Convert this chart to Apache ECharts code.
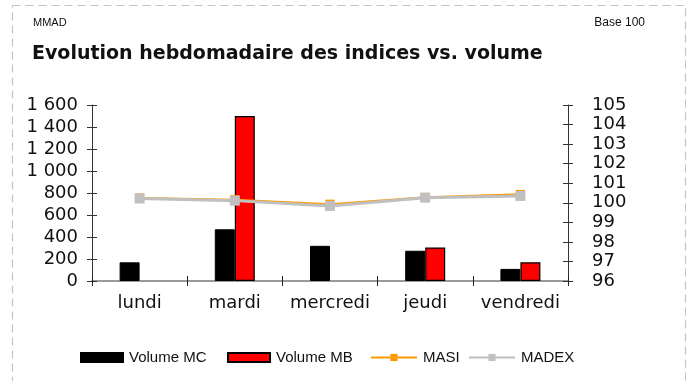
<!DOCTYPE html>
<html>
<head>
<meta charset="utf-8">
<script src="https://cdn.jsdelivr.net/npm/echarts@6/dist/echarts.min.js"></script>
<style>
  html, body { margin: 0; padding: 0; background: #fff; }
  #chart { width: 687px; height: 381px; }
</style>
</head>
<body>
<div id="chart"></div>
<script>
// Weekly trading days
const days = ['lundi', 'mardi', 'mercredi', 'jeudi', 'vendredi'];

// Traded volumes (left axis)
const volumeMC = [170, 470, 320, 275, 110];
const volumeMB = ['-', 1500, '-', 305, 170];

// Indices rebased to 100 (right axis)
const masi = [100.25, 100.16, 99.93, 100.28, 100.43];
const madex = [100.22, 100.11, 99.84, 100.26, 100.35];

// Axis ranges
const volMin = 0, volMax = 1600, volStep = 200;
const idxMin = 96, idxMax = 105, idxStep = 1;

const fmtVolume = v => {
  const s = String(v);
  return s.length > 3 ? s.slice(0, s.length - 3) + ' ' + s.slice(-3) : s;
};

const axisFont = { fontFamily: 'DejaVu Sans', fontSize: 18, color: '#111' };

const chart = echarts.init(document.getElementById('chart'), null, { renderer: 'canvas' });

const legendBase = {
  orient: 'horizontal',
  top: 345,
  itemHeight: 9,
  itemGap: 10,
  textStyle: { fontFamily: 'Liberation Sans', fontSize: 15, color: '#111', padding: [0, 0, 0, 1] }
};

chart.setOption({
  animation: false,
  backgroundColor: '#fff',
  graphic: [{
    type: 'rect',
    shape: { x: 12.5, y: 5.5, width: 673, height: 420 },
    style: { fill: 'none', stroke: '#c4c4c4', lineWidth: 1.2, lineDash: [8, 5] },
    silent: true
  }],
  title: [
    { text: 'MMAD', left: 28, top: 12,
      textStyle: { fontFamily: 'Liberation Sans Narrow, Liberation Sans', fontSize: 11, fontWeight: 'normal', color: '#111' } },
    { text: 'Base 100', right: 37, top: 12,
      textStyle: { fontFamily: 'Liberation Sans', fontSize: 12, fontWeight: 'normal', color: '#111' } },
    { text: 'Evolution hebdomadaire des indices vs. volume', left: 27, top: 40,
      textStyle: { fontFamily: 'DejaVu Sans', fontSize: 19, fontWeight: 'bold', color: '#111' } }
  ],
  legend: [
    Object.assign({}, legendBase, { left: 75, itemWidth: 42, data: [{ name: 'Volume MC', icon: 'rect' }] }),
    Object.assign({}, legendBase, { left: 222, itemWidth: 42, data: [{ name: 'Volume MB', icon: 'rect' }] }),
    Object.assign({}, legendBase, { left: 365, itemWidth: 46, data: ['MASI'] }),
    Object.assign({}, legendBase, { left: 463, itemWidth: 46, data: ['MADEX'] })
  ],
  grid: { left: 92, right: 119, top: 105, bottom: 100, containLabel: false },
  xAxis: [
    {
      type: 'category', data: days, position: 'bottom',
      axisLine: { lineStyle: { color: '#7a7a7a', width: 1.5 } },
      axisTick: { show: true, length: 5, lineStyle: { color: '#222' } },
      axisLabel: Object.assign({}, axisFont, { fontSize: 18, margin: 13, interval: 0 })
    },
    {
      type: 'category', data: days, position: 'bottom', offset: 0,
      axisLine: { show: false },
      axisTick: { show: true, inside: true, length: 5, lineStyle: { color: '#222' } },
      axisLabel: { show: false }
    }
  ],
  yAxis: [
    {
      type: 'value', position: 'left', min: volMin, max: volMax, interval: volStep,
      axisLine: { show: true, lineStyle: { color: '#333' } },
      axisTick: { show: true, length: 5, lineStyle: { color: '#333' } },
      splitLine: { show: false },
      axisLabel: Object.assign({}, axisFont, { margin: 14, formatter: fmtVolume })
    },
    {
      type: 'value', position: 'right', min: idxMin, max: idxMax, interval: idxStep,
      axisLine: { show: true, lineStyle: { color: '#333' } },
      axisTick: { show: true, length: 5, lineStyle: { color: '#333' } },
      splitLine: { show: false },
      axisLabel: Object.assign({}, axisFont, { margin: 24 })
    },
    {
      type: 'value', position: 'left', offset: 0, min: volMin, max: volMax, interval: volStep,
      axisLine: { show: false },
      axisTick: { show: true, inside: true, length: 5, lineStyle: { color: '#333' } },
      splitLine: { show: false }, axisLabel: { show: false }
    },
    {
      type: 'value', position: 'right', offset: 0, min: idxMin, max: idxMax, interval: idxStep,
      axisLine: { show: false },
      axisTick: { show: true, inside: true, length: 5, lineStyle: { color: '#333' } },
      splitLine: { show: false }, axisLabel: { show: false }
    }
  ],
  series: [
    {
      name: 'Volume MC', type: 'bar', xAxisIndex: 0, yAxisIndex: 0,
      data: volumeMC, barWidth: 20, barGap: '0%',
      itemStyle: { color: '#000', borderColor: '#000', borderWidth: 1 }
    },
    {
      name: 'Volume MB', type: 'bar', xAxisIndex: 0, yAxisIndex: 0,
      data: volumeMB, barWidth: 20, barGap: '0%',
      itemStyle: { color: '#ff0000', borderColor: '#000', borderWidth: 1.2 }
    },
    {
      name: 'MASI', type: 'line', xAxisIndex: 0, yAxisIndex: 1,
      data: masi, symbol: 'rect', symbolSize: 9,
      lineStyle: { color: '#ff9900', width: 2 },
      itemStyle: { color: '#ff9900' }
    },
    {
      name: 'MADEX', type: 'line', xAxisIndex: 0, yAxisIndex: 1,
      data: madex, symbol: 'rect', symbolSize: 10,
      lineStyle: { color: '#c0c0c0', width: 3 },
      itemStyle: { color: '#c0c0c0' }
    }
  ]
});
</script>
</body>
</html>
